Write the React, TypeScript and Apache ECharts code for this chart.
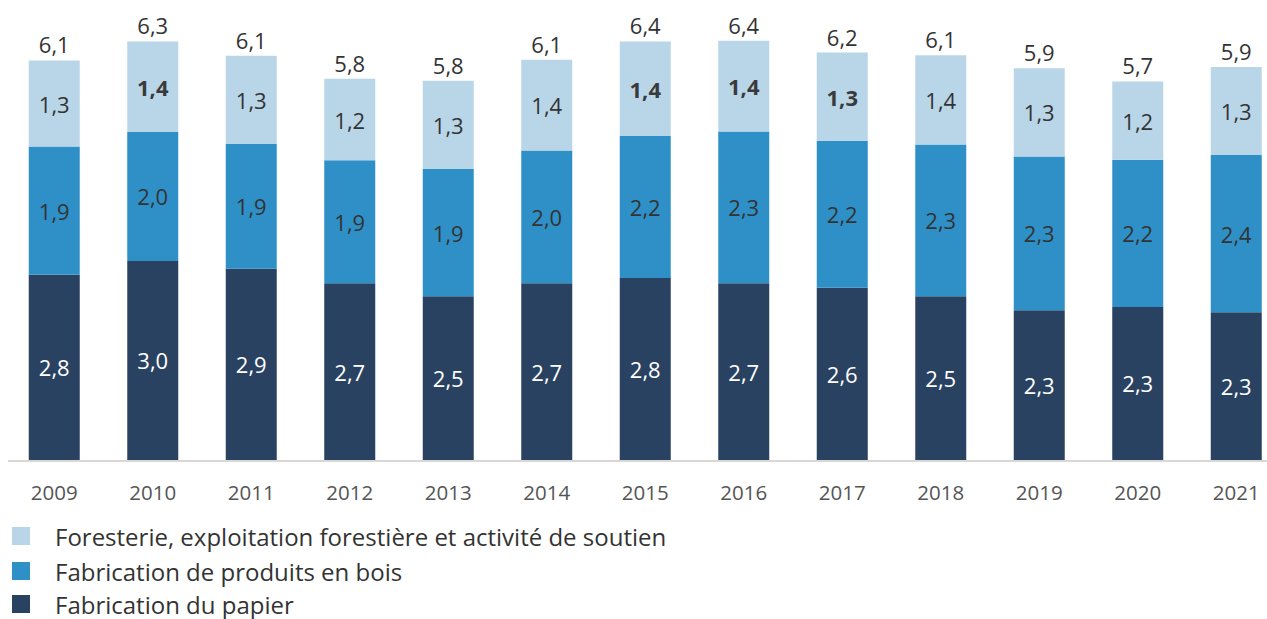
import React, { useEffect, useRef } from "react";
import * as echarts from "echarts";

const years = ["2009", "2010", "2011", "2012", "2013", "2014", "2015", "2016", "2017", "2018", "2019", "2020", "2021"];
const papier = [2.82, 3.03, 2.91, 2.69, 2.49, 2.69, 2.77, 2.69, 2.62, 2.49, 2.28, 2.33, 2.25];
const bois = [1.95, 1.96, 1.9, 1.87, 1.94, 2.02, 2.16, 2.31, 2.24, 2.31, 2.34, 2.24, 2.39];
const foresterie = [1.31, 1.38, 1.34, 1.24, 1.34, 1.38, 1.44, 1.38, 1.34, 1.36, 1.34, 1.19, 1.34];
const totals = [6.1, 6.3, 6.1, 5.8, 5.8, 6.1, 6.4, 6.4, 6.2, 6.1, 5.9, 5.7, 5.9];
const boldForesterie = ["2010", "2015", "2016", "2017"];

const names = [
  "Foresterie, exploitation forestière et activité de soutien",
  "Fabrication de produits en bois",
  "Fabrication du papier",
];
const colors = ["#b9d6e9", "#2f90c8", "#2a4262"];
const legendTops = [524, 559, 592];

const fmt = (v: number) => v.toFixed(1).replace(".", ",");
const FONT = "'Open Sans', sans-serif";

export default function App() {
  const ref = useRef<HTMLDivElement>(null);
  useEffect(() => {
    if (!ref.current) return;
    const chart = echarts.init(ref.current, null, { renderer: "svg" });
    chart.setOption({
      animation: false,
      textStyle: { fontFamily: FONT },
      grid: { left: 5, top: 0, width: 1280.5, height: 460 },
      xAxis: {
        type: "category",
        data: years,
        axisLine: { show: false },
        axisTick: { show: false },
        axisLabel: { color: "#555", fontSize: 20.5, margin: 21, fontFamily: FONT },
      },
      yAxis: { type: "value", min: 0, max: 7, show: false, splitLine: { show: false } },
      legend: names.map((n, i) => ({
        orient: "vertical",
        left: 12,
        top: legendTops[i],
        padding: 0,
        itemWidth: 18,
        itemHeight: 18,
        icon: "rect",
        data: [n],
        textStyle: { fontSize: 24, color: "#333", fontFamily: FONT, padding: [0, 0, 0, 20], lineHeight: 24 },
      })),
      graphic: [
        {
          type: "line",
          shape: { x1: 8, y1: 461, x2: 1267, y2: 461 },
          style: { stroke: "#d9d6d3", lineWidth: 2 },
        },
      ],
      series: [
        {
          name: names[2],
          type: "bar",
          stack: "t",
          barWidth: 51,
          data: papier,
          itemStyle: { color: colors[2] },
          label: { show: true, position: "inside", color: "#fff", fontSize: 22, fontFamily: FONT, formatter: (p: any) => fmt(p.value) },
        },
        {
          name: names[1],
          type: "bar",
          stack: "t",
          data: bois,
          itemStyle: { color: colors[1] },
          label: { show: true, position: "inside", color: "#333", fontSize: 22, fontFamily: FONT, formatter: (p: any) => fmt(p.value) },
        },
        {
          name: names[0],
          type: "bar",
          stack: "t",
          data: foresterie.map((v, i) => ({
            value: v,
            label: boldForesterie.includes(years[i]) ? { fontWeight: "bold", color: "#3a3a3a" } : {},
          })),
          itemStyle: { color: colors[0] },
          label: { show: true, position: "inside", color: "#333", fontSize: 22, fontFamily: FONT, formatter: (p: any) => fmt(p.value) },
        },
        {
          name: "total",
          type: "bar",
          stack: "t",
          data: totals.map(() => 0),
          itemStyle: { color: "transparent" },
          label: {
            show: true,
            position: "top",
            distance: 5,
            color: "#333",
            fontSize: 22,
            fontFamily: FONT,
            formatter: (p: any) => fmt(totals[p.dataIndex]),
          },
        },
      ],
    });
    return () => chart.dispose();
  }, []);
  return (
    <div style={{ position: "absolute", left: 0, top: 0, width: 1267, height: 619, overflow: "hidden" }}>
      <div ref={ref} style={{ width: 1300, height: 619 }} />
    </div>
  );
}
